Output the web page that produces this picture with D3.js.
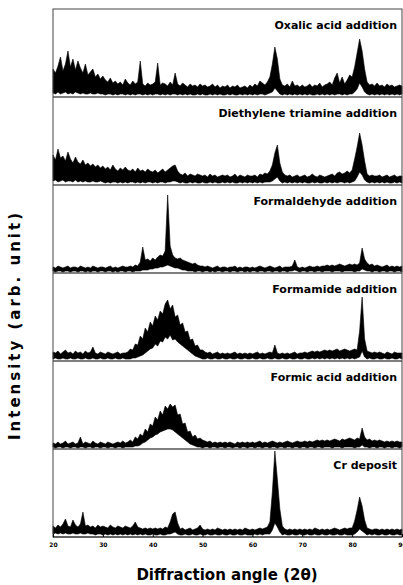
<!DOCTYPE html>
<html>
<head>
<meta charset="utf-8">
<script src="https://cdn.jsdelivr.net/npm/d3@7"></script>
<style>
  html, body { margin: 0; padding: 0; background: #fff; }
  svg { display: block; }
</style>
</head>
<body>
<div id="chart"></div>
<script>
// sampling grid of the patterns (2 theta, 0.5 deg steps)
var angles = d3.range(20, 90.25, 0.5);
var tickAngles = [20, 30, 40, 50, 60, 70, 80, 90];

var panelNames = ["Oxalic acid addition", "Diethylene triamine addition", "Formaldehyde addition",
    "Formamide addition", "Formic acid addition", "Cr deposit"];

// upper / lower edge of the noisy trace (arb. unit)
var oxalicHi = [28, 24, 31, 40, 26, 33, 46, 30, 38, 27, 36, 29, 24, 33, 22, 25, 28, 20, 23, 18,
    21, 17, 15, 19, 14, 16, 13, 15, 12, 18, 14, 12, 16, 13, 15, 36, 13, 11, 14, 12,
    13, 15, 34, 12, 14, 13, 11, 15, 12, 24, 13, 11, 14, 12, 10, 13, 11, 12, 10, 13,
    11, 12, 10, 11, 13, 10, 12, 9, 11, 10, 12, 9, 11, 10, 12, 9, 10, 11, 9, 12,
    10, 13, 11, 16, 14, 12, 15, 20, 33, 50, 38, 18, 12, 11, 13, 10, 16, 11, 12, 10,
    12, 10, 11, 13, 10, 12, 11, 14, 10, 12, 13, 15, 12, 19, 24, 14, 20, 13, 17, 22,
    20, 30, 44, 58, 46, 28, 15, 12, 13, 11, 14, 11, 12, 10, 13, 11, 12, 10, 11, 12, 11];
var oxalicLo = [4, 3, 5, 3, 4, 5, 3, 4, 3, 5, 4, 3, 4, 3, 3, 4, 3, 3, 4, 3,
    3, 2, 3, 3, 2, 3, 2, 3, 3, 2, 3, 2, 3, 2, 3, 3, 2, 3, 2, 3,
    2, 3, 3, 2, 3, 2, 3, 2, 3, 3, 2, 3, 2, 3, 2, 3, 2, 2, 3, 2,
    3, 2, 2, 3, 2, 3, 2, 3, 2, 2, 3, 2, 3, 2, 2, 3, 2, 3, 2, 3,
    2, 3, 2, 3, 3, 2, 3, 4, 5, 9, 6, 3, 2, 3, 2, 3, 2, 3, 2, 3,
    2, 3, 2, 3, 2, 2, 3, 2, 3, 2, 3, 2, 3, 2, 3, 3, 2, 3, 2, 3,
    3, 5, 8, 14, 10, 5, 3, 2, 3, 2, 3, 2, 3, 2, 3, 2, 3, 2, 3, 2, 3];

var dietaHi = [30, 25, 36, 27, 29, 24, 33, 26, 22, 28, 23, 21, 25, 20, 22, 19, 21, 18, 20, 17,
    19, 16, 18, 15, 20, 16, 14, 17, 15, 18, 15, 14, 16, 13, 17, 14, 15, 13, 16, 14,
    13, 15, 12, 14, 16, 13, 15, 17, 19, 20, 14, 11, 10, 12, 9, 11, 10, 9, 11, 10,
    9, 10, 8, 11, 9, 10, 8, 9, 10, 9, 10, 8, 9, 11, 8, 10, 9, 8, 10, 9,
    9, 10, 8, 11, 10, 12, 11, 14, 20, 32, 40, 22, 13, 10, 9, 10, 8, 9, 10, 8,
    9, 10, 8, 9, 11, 9, 8, 10, 9, 8, 9, 10, 11, 9, 12, 13, 11, 12, 14, 12,
    15, 26, 38, 52, 40, 24, 11, 9, 10, 9, 9, 10, 8, 9, 10, 8, 9, 10, 8, 9, 9];
var dietaLo = [4, 5, 3, 4, 5, 3, 4, 4, 3, 5, 3, 4, 3, 4, 3, 3, 4, 3, 3, 4,
    3, 2, 3, 2, 3, 3, 2, 3, 2, 3, 2, 3, 3, 2, 3, 2, 3, 2, 3, 3,
    2, 3, 2, 3, 3, 2, 3, 3, 4, 4, 3, 2, 3, 2, 2, 3, 2, 3, 2, 2,
    3, 2, 2, 3, 2, 3, 2, 2, 3, 2, 3, 2, 3, 2, 2, 3, 2, 3, 2, 3,
    2, 3, 2, 3, 2, 3, 3, 3, 4, 6, 8, 4, 2, 3, 2, 3, 2, 3, 2, 3,
    2, 3, 2, 2, 3, 2, 3, 2, 2, 3, 2, 3, 2, 3, 2, 3, 3, 2, 3, 2,
    3, 4, 8, 13, 10, 5, 3, 2, 3, 2, 3, 2, 3, 2, 3, 2, 2, 3, 2, 3, 2];

var formaldHi = [6, 5, 7, 6, 5, 6, 7, 5, 6, 6, 5, 7, 6, 5, 6, 5, 7, 6, 5, 6,
    6, 5, 6, 7, 5, 6, 5, 6, 7, 6, 6, 7, 6, 8, 7, 11, 26, 13, 14, 12,
    15, 13, 16, 18, 17, 22, 78, 27, 18, 15, 14, 15, 13, 12, 11, 10, 9, 10, 8, 7,
    7, 6, 7, 6, 5, 6, 7, 5, 6, 6, 5, 6, 6, 7, 5, 6, 5, 6, 6, 5,
    6, 5, 6, 7, 6, 5, 6, 7, 6, 5, 6, 7, 5, 6, 6, 6, 7, 13, 6, 5,
    6, 5, 6, 7, 6, 6, 7, 6, 7, 7, 8, 7, 8, 7, 8, 9, 8, 7, 8, 9,
    8, 9, 8, 10, 25, 14, 10, 8, 9, 7, 8, 7, 6, 7, 8, 6, 7, 6, 7, 6, 7];
var formaldLo = [2, 1, 2, 2, 1, 2, 2, 1, 2, 2, 1, 2, 2, 1, 2, 1, 2, 2, 1, 2,
    2, 1, 2, 2, 1, 2, 1, 2, 2, 1, 2, 2, 1, 2, 2, 2, 3, 3, 3, 4,
    4, 5, 5, 6, 6, 7, 8, 7, 6, 5, 5, 4, 3, 3, 2, 2, 2, 1, 2, 2,
    1, 2, 2, 1, 2, 1, 2, 2, 1, 2, 2, 1, 2, 2, 1, 2, 2, 1, 2, 1,
    2, 2, 1, 2, 2, 1, 2, 2, 1, 2, 2, 1, 2, 2, 1, 2, 2, 3, 2, 1,
    2, 2, 1, 2, 2, 1, 2, 2, 1, 2, 2, 2, 1, 2, 2, 2, 1, 2, 2, 2,
    2, 1, 2, 2, 4, 3, 2, 2, 1, 2, 2, 1, 2, 2, 1, 2, 2, 1, 2, 2, 1];

var formamHi = [9, 8, 10, 7, 9, 11, 8, 9, 7, 10, 8, 9, 7, 10, 8, 9, 14, 8, 7, 9,
    8, 7, 9, 8, 7, 8, 9, 7, 8, 8, 9, 12, 11, 17, 16, 25, 22, 33, 29, 39,
    35, 45, 41, 50, 47, 57, 61, 52, 56, 44, 46, 36, 38, 29, 30, 21, 22, 15, 16, 11,
    11, 9, 8, 9, 7, 8, 9, 7, 8, 7, 8, 7, 8, 9, 7, 8, 7, 8, 7, 8,
    7, 8, 9, 7, 8, 7, 8, 9, 8, 16, 8, 7, 8, 7, 8, 7, 8, 9, 7, 8,
    8, 9, 8, 9, 10, 9, 10, 9, 10, 11, 10, 11, 10, 11, 12, 10, 11, 12, 11, 10,
    11, 12, 11, 30, 64, 22, 10, 9, 8, 9, 8, 9, 8, 7, 9, 8, 7, 9, 8, 8, 8];
var formamLo = [2, 3, 2, 2, 3, 2, 2, 3, 2, 2, 3, 2, 2, 3, 2, 2, 3, 2, 2, 3,
    2, 2, 3, 2, 2, 3, 2, 2, 3, 2, 2, 2, 3, 3, 4, 5, 6, 8, 10, 12,
    13, 17, 15, 20, 19, 24, 22, 26, 21, 22, 19, 17, 15, 13, 11, 9, 7, 5, 4, 3,
    2, 2, 3, 2, 2, 3, 2, 2, 3, 2, 2, 3, 2, 2, 3, 2, 2, 3, 2, 2,
    3, 2, 2, 3, 2, 2, 3, 2, 2, 3, 2, 2, 3, 2, 2, 3, 2, 2, 3, 2,
    2, 3, 2, 2, 3, 2, 3, 2, 3, 2, 3, 2, 3, 2, 3, 2, 3, 2, 3, 2,
    3, 2, 3, 4, 10, 4, 2, 3, 2, 2, 3, 2, 2, 3, 2, 2, 3, 2, 2, 3, 2];

var formicHi = [6, 5, 7, 5, 6, 8, 5, 6, 7, 5, 6, 12, 5, 7, 6, 5, 8, 6, 5, 7,
    6, 5, 7, 6, 5, 6, 7, 6, 8, 6, 7, 9, 7, 12, 10, 15, 13, 20, 17, 25,
    23, 32, 29, 38, 34, 43, 40, 45, 42, 44, 34, 35, 25, 26, 17, 18, 12, 14, 10, 11,
    9, 8, 7, 8, 6, 7, 6, 7, 6, 7, 6, 7, 6, 5, 7, 6, 7, 6, 7, 6,
    7, 6, 7, 8, 6, 7, 6, 7, 8, 7, 6, 7, 6, 7, 8, 7, 6, 7, 8, 7,
    7, 8, 7, 8, 7, 8, 9, 8, 9, 8, 9, 8, 9, 10, 9, 8, 10, 9, 10, 11,
    10, 9, 11, 10, 21, 12, 9, 10, 8, 9, 8, 9, 8, 7, 8, 7, 8, 7, 8, 7, 7];
var formicLo = [2, 1, 2, 2, 1, 2, 2, 1, 2, 2, 1, 2, 2, 1, 2, 2, 1, 2, 2, 1,
    2, 2, 1, 2, 2, 1, 2, 2, 1, 2, 2, 2, 2, 3, 3, 4, 6, 7, 9, 11,
    12, 14, 15, 17, 18, 19, 20, 20, 19, 17, 15, 13, 11, 9, 7, 5, 4, 3, 2, 2,
    1, 2, 2, 1, 2, 2, 1, 2, 2, 1, 2, 2, 1, 2, 2, 1, 2, 2, 1, 2,
    2, 1, 2, 2, 1, 2, 2, 1, 2, 2, 1, 2, 2, 1, 2, 2, 1, 2, 2, 1,
    2, 2, 1, 2, 2, 1, 2, 2, 1, 2, 2, 2, 1, 2, 2, 2, 1, 2, 2, 2,
    2, 1, 2, 2, 4, 2, 2, 1, 2, 2, 1, 2, 2, 1, 2, 2, 1, 2, 2, 1, 2];

var crHi = [11, 9, 12, 10, 13, 18, 11, 10, 17, 12, 10, 13, 25, 11, 12, 10, 11, 9, 12, 10,
    11, 10, 9, 12, 10, 9, 11, 10, 9, 11, 10, 9, 11, 15, 10, 9, 8, 9, 8, 9,
    8, 9, 8, 9, 8, 10, 9, 15, 23, 25, 14, 8, 9, 7, 8, 9, 7, 8, 9, 12,
    8, 7, 8, 7, 8, 7, 9, 8, 7, 8, 7, 8, 7, 8, 7, 8, 7, 9, 8, 7,
    8, 7, 8, 9, 8, 9, 10, 15, 45, 86, 58, 28, 11, 8, 7, 8, 7, 8, 7, 8,
    7, 8, 7, 8, 7, 9, 8, 7, 8, 7, 8, 7, 8, 9, 8, 7, 8, 9, 8, 9,
    9, 16, 27, 40, 31, 17, 9, 8, 7, 8, 8, 7, 8, 7, 8, 7, 8, 7, 8, 7, 8];
var crLo = [3, 4, 3, 4, 3, 4, 3, 3, 4, 3, 3, 4, 3, 3, 4, 3, 3, 2, 3, 3,
    2, 3, 2, 3, 2, 3, 2, 3, 2, 3, 2, 3, 2, 3, 2, 3, 2, 3, 2, 2,
    3, 2, 2, 3, 2, 2, 3, 3, 4, 5, 3, 2, 2, 3, 2, 2, 3, 2, 2, 3,
    2, 2, 3, 2, 2, 3, 2, 2, 3, 2, 2, 3, 2, 2, 3, 2, 2, 3, 2, 2,
    2, 3, 2, 3, 2, 3, 3, 3, 7, 14, 10, 5, 2, 3, 2, 2, 3, 2, 2, 3,
    2, 2, 3, 2, 2, 3, 2, 2, 3, 2, 2, 3, 2, 2, 3, 2, 2, 3, 2, 2,
    2, 3, 5, 8, 6, 4, 2, 3, 2, 3, 2, 2, 3, 2, 2, 3, 2, 2, 3, 2, 2];

var traces = [
    { name: panelNames[0], hi: oxalicHi, lo: oxalicLo },
    { name: panelNames[1], hi: dietaHi, lo: dietaLo },
    { name: panelNames[2], hi: formaldHi, lo: formaldLo },
    { name: panelNames[3], hi: formamHi, lo: formamLo },
    { name: panelNames[4], hi: formicHi, lo: formicLo },
    { name: panelNames[5], hi: crHi, lo: crLo }
];

var width = 403, height = 585;
var margin = { top: 9, right: 1, bottom: 48, left: 53 };

var svg = d3.select("#chart").append("svg")
    .attr("width", width)
    .attr("height", height);

var x = d3.scaleLinear()
    .domain([20, 90])
    .range([margin.left, width - margin.right]);

var band = d3.scaleBand()
    .domain(panelNames)
    .range([margin.top, height - margin.bottom])
    .paddingInner(0);

traces.forEach(function (t) {
    var top = band(t.name), bottom = top + band.bandwidth();
    var y = d3.scaleLinear().domain([0, 88]).range([bottom, top]);

    var pts = angles.map(function (a, i) { return { a: a, hi: t.hi[i], lo: t.lo[i] }; });

    var area = d3.area()
        .x(function (d) { return x(d.a); })
        .y0(function (d) { return y(d.lo); })
        .y1(function (d) { return y(d.hi); });

    var g = svg.append("g").attr("class", "panel");

    g.append("path")
        .datum(pts)
        .attr("d", area)
        .attr("fill", "#000")
        .attr("stroke", "#000")
        .attr("stroke-width", 0.6)
        .attr("stroke-linejoin", "miter");

    // bottom line of the panel
    g.append("line")
        .attr("x1", x(20)).attr("x2", x(90))
        .attr("y1", bottom).attr("y2", bottom)
        .attr("stroke", "#000").attr("stroke-width", 1);

    g.append("text")
        .attr("x", x(90) - 5)
        .attr("y", top + 20)
        .attr("text-anchor", "end")
        .style("font-family", "'DejaVu Sans', sans-serif")
        .style("font-weight", "bold")
        .style("font-size", "11px")
        .text(t.name);
});

// frame
svg.append("rect")
    .attr("x", x(20)).attr("y", margin.top)
    .attr("width", x(90) - x(20)).attr("height", height - margin.bottom - margin.top)
    .attr("fill", "none").attr("stroke", "#444").attr("stroke-width", 1);

var xAxis = svg.append("g")
    .attr("transform", "translate(0," + (height - margin.bottom) + ")")
    .call(d3.axisBottom(x).tickValues(tickAngles).tickSize(-3).tickPadding(6).tickFormat(d3.format("d")));
xAxis.select(".domain").remove();
xAxis.selectAll("text")
    .style("font-family", "'DejaVu Sans', sans-serif")
    .style("font-weight", "bold")
    .style("font-size", "6px");

svg.append("text")
    .attr("x", 227)
    .attr("y", 580)
    .attr("text-anchor", "middle")
    .style("font-family", "'DejaVu Sans', sans-serif")
    .style("font-weight", "bold")
    .style("font-size", "15px")
    .text("Diffraction angle (2\u03b8)");

svg.append("text")
    .attr("transform", "translate(20,325) rotate(-90)")
    .attr("text-anchor", "middle")
    .style("font-family", "'DejaVu Sans', sans-serif")
    .style("font-weight", "bold")
    .style("font-size", "15px")
    .style("letter-spacing", "3px")
    .text("Intensity (arb. unit)");
</script>
</body>
</html>
